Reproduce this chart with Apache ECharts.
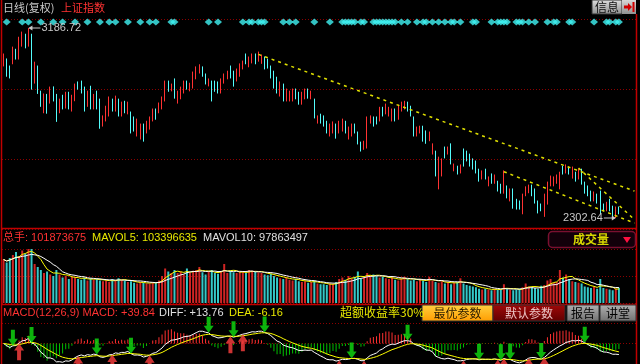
<!DOCTYPE html>
<html><head><meta charset="utf-8">
<script src="https://cdn.jsdelivr.net/npm/echarts@6/dist/echarts.min.js"></script>
<style>html,body{margin:0;padding:0;background:#000;}#c{width:640px;height:364px;}</style>
</head><body><div id="c"></div><script>
// [open, close, low, high]
const candles = [
[3015,3061,3008,3068],[3038,2968,2960,3045],[3005,2959,2952,3012],[3024,3094,3018,3100],[3084,3047,3040,3090],
[3047,3140,3040,3146],[3108,3163,3100,3170],[3154,3098,3092,3160],[3108,3177,3100,3186.72],[3154,2908,2900,3160],
[2935,3024,2928,3030],[3005,2889,2880,3012],[2889,2828,2820,2895],[2796,2875,2790,2882],[2875,2796,2788,2880],
[2842,2908,2835,2914],[2908,2852,2845,2915],[2875,2759,2750,2880],[2796,2852,2790,2858],[2870,2814,2808,2876],
[2819,2884,2812,2890],[2884,2814,2808,2890],[2805,2870,2798,2876],[2852,2921,2846,2928],[2931,2908,2900,2938],
[2935,2889,2882,2942],[2908,2805,2798,2914],[2828,2889,2820,2895],[2912,2814,2808,2918],[2814,2875,2808,2880],
[2889,2814,2808,2895],[2852,2726,2718,2858],[2735,2773,2728,2780],[2759,2819,2752,2825],[2782,2861,2775,2868],
[2852,2805,2798,2858],[2805,2866,2798,2872],[2852,2782,2775,2858],[2782,2838,2775,2844],[2842,2796,2790,2848],
[2791,2838,2785,2844],[2791,2703,2696,2798],[2768,2712,2705,2775],[2689,2759,2682,2765],[2675,2735,2668,2742],
[2735,2666,2658,2742],[2703,2749,2696,2755],[2721,2768,2714,2775],[2759,2805,2752,2812],[2805,2768,2760,2812],
[2796,2833,2790,2840],[2814,2861,2808,2868],[2852,2935,2845,2942],[2935,2898,2890,2942],[2898,2921,2892,2928],
[2945,2866,2858,2952],[2842,2889,2835,2895],[2861,2908,2855,2914],[2889,2935,2882,2942],[2935,2908,2900,2942],
[2898,2926,2892,2932],[2912,2977,2905,2984],[2954,3001,2948,3008],[2982,3010,2975,3018],[3001,2968,2960,3008],
[2968,2931,2924,2975],[2921,2945,2915,2952],[2935,2852,2845,2942],[2935,2898,2890,2942],[2931,2889,2882,2938],
[2889,2945,2882,2952],[2935,2968,2928,2975],[2954,2982,2948,2988],[3005,2959,2952,3012],[2982,2921,2914,2988],
[2945,2991,2938,2998],[2968,3015,2960,3022],[3001,3028,2994,3035],[3061,3024,3018,3068],[3010,3047,3004,3054],
[3028,3061,3022,3068],[3061,3024,3018,3068],[3038,3070,3030,3077],[3028,3056,3020,3063],[3047,3001,2994,3054],
[3038,3005,2998,3044],[3005,2959,2952,3012],[2982,2912,2905,2988],[2954,2889,2882,2960],[2875,2931,2868,2938],
[2921,2852,2845,2928],[2852,2898,2845,2905],[2852,2889,2845,2895],[2852,2898,2845,2905],[2898,2861,2855,2905],
[2884,2838,2830,2890],[2838,2884,2830,2890],[2861,2898,2855,2905],[2898,2866,2858,2905],[2861,2889,2855,2895],
[2852,2773,2766,2858],[2749,2773,2742,2780],[2782,2749,2742,2788],[2773,2735,2728,2780],[2749,2703,2696,2755],
[2689,2735,2682,2742],[2703,2745,2696,2752],[2735,2680,2672,2742],[2703,2749,2696,2755],[2712,2759,2705,2765],
[2749,2703,2696,2755],[2675,2721,2668,2728],[2689,2735,2682,2742],[2735,2703,2696,2742],[2698,2652,2645,2705],
[2652,2619,2612,2658],[2628,2656,2620,2662],[2633,2768,2626,2775],[2749,2773,2742,2780],[2768,2735,2728,2775],
[2768,2745,2738,2775],[2759,2814,2752,2820],[2814,2782,2775,2820],[2791,2828,2785,2835],[2782,2814,2775,2820],
[2759,2805,2752,2812],[2805,2759,2752,2812],[2768,2824,2760,2830],[2805,2838,2798,2844],[2814,2842,2808,2848],
[2838,2805,2798,2844],[2819,2782,2775,2825],[2768,2689,2682,2775],[2689,2721,2682,2728],[2703,2726,2696,2732],
[2726,2666,2658,2732],[2703,2656,2648,2710],[2666,2698,2660,2705],[2605,2642,2598,2650],[2610,2503,2496,2616],
[2442,2582,2436,2588],[2503,2573,2496,2580],[2628,2586,2580,2635],[2605,2628,2598,2635],[2642,2559,2552,2650],
[2526,2549,2520,2556],[2540,2512,2505,2546],[2517,2545,2510,2552],[2619,2549,2542,2626],[2610,2573,2566,2616],
[2596,2549,2542,2602],[2573,2535,2528,2580],[2563,2517,2510,2570],[2526,2480,2472,2532],[2489,2517,2482,2524],
[2526,2489,2482,2532],[2456,2489,2450,2496],[2503,2470,2462,2510],[2470,2498,2462,2505],[2470,2433,2426,2476],
[2456,2424,2416,2462],[2424,2517,2416,2524],[2447,2400,2394,2454],[2386,2433,2380,2440],[2433,2354,2346,2440],
[2386,2349,2342,2392],[2377,2349,2342,2384],[2326,2410,2320,2416],[2410,2442,2404,2450],[2424,2452,2418,2458],
[2452,2410,2404,2458],[2433,2377,2370,2440],[2377,2331,2324,2384],[2363,2340,2334,2370],[2317,2410,2308,2416],
[2372,2466,2365,2472],[2456,2493,2450,2500],[2456,2489,2450,2496],[2470,2498,2462,2505],[2442,2512,2436,2518],
[2540,2512,2505,2546],[2517,2545,2510,2552],[2535,2512,2505,2542],[2493,2535,2486,2542],[2512,2480,2472,2518],
[2489,2526,2482,2532],[2526,2466,2458,2532],[2466,2424,2416,2472],[2447,2410,2404,2454],[2424,2386,2380,2430],
[2386,2419,2380,2426],[2410,2377,2370,2416],[2424,2326,2320,2430],[2363,2340,2334,2370],[2340,2372,2334,2378],
[2386,2340,2334,2392],[2354,2307,2304,2360],[2317,2349,2302.64,2356],[2349,2326,2320,2356]
];
// volume, millions of shares
const volumes = [
290,270,300,320, 340,310,350,330,370,360, 260,240,220, 200,210,190, 180,220,190, 170,180,160,175,170,
160,155,170,150,165,155,160,150, 145,150,140, 160,150,165,155,150, 140,145,135,130,140,135,130,
130,140,135,150,180, 230,210,200, 220,200,210,190,230,200,215,220,240,205, 190,210,220,200,195,
210,260,200,215,205,200, 205,210,200,220,215,210,205,200, 190,185,195,180,170, 165,160,170,155,150,160,145,
140,145,135,140,150,130,125, 125,120,130,125,140,160, 170,155,180,165,175,210,160, 170,200,185,190,180,170,175,
165,160,170,155,150,165,175,160, 150,155,145,160,150,140,175, 150,140,135,145,130,140,125,135,140,
165,130,120,115,110,105, 95,90,95,90,85,95,90,88,125, 92,88,85,90,95,105,130, 110,105,100,95,115,120,
150,160,135,140,220,170, 190,160,145,140,135,130, 110,105,100,110,95,160, 100,95,90,85,95,101.873675
];
// days marked with a cyan diamond in the signal strip
const signalDays = [1,6,8,12,16,19,23,27,31,34,36,40,44,47,49,54,55,66,69,77,79,80,82,83,84,90,92,94,100,
105,109,110,111,112,113,115,116,119,120,121,122,123,124,125,126,128,130,133,135,136,138,140,142,144,145,147,
151,152,157,159,160,161,162,165,166,167,169,171,175,177,178,182,183,190,194,195,197,198];
const sellArrows = [3,9,30,41,66,74,84,112,130,153,160,163,173,187];
const buyArrows = [5,24,35,47,73,77,108,116,148,159,161,169,174];
// dashed trend lines: [[day, price], [day, price]]
const trendLines = [
  [[82,3064],[203,2428]],
  [[161,2518],[203,2279]],
  [[185,2535],[203,2295]]
];
const volHeader = ['总手: 101873675', 'MAVOL5: 103396635', 'MAVOL10: 97863497'];
const macdHeader = ['MACD(12,26,9) MACD: +39.84', 'DIFF: +13.76', 'DEA: -6.16'];

const categories = [];
for (let i = 0; i < candles.length + 5; i++) categories.push(String(i));

function ema(arr, n) { const k = 2 / (n + 1); const out = []; let e = arr[0];
  for (let i = 0; i < arr.length; i++) { e = i === 0 ? arr[0] : arr[i] * k + e * (1 - k); out.push(e); } return out; }
function ma(arr, n) { return arr.map((v, i) => { let s = 0, c = 0; for (let j = Math.max(0, i - n + 1); j <= i; j++) { s += arr[j]; c++; } return s / c; }); }
const closes = candles.map(c => c[1]);
const e12 = ema(closes, 12), e26 = ema(closes, 26);
const diff = e12.map((v, i) => v - e26[i]);
const dea = ema(diff, 9);
const macd = diff.map((v, i) => 2 * (v - dea[i]));
const mavol5 = ma(volumes, 5), mavol10 = ma(volumes, 10);
const A = Math.ceil(Math.max(...diff.map(Math.abs), ...dea.map(Math.abs)) * 1.05);

const RED = '#ff3232', CYAN = '#54fcfc';
const dotted = { show: true, lineStyle: { color: '#8c0000', type: [1, 2], width: 1 } };
const hid = { axisLine: { show: false }, axisTick: { show: false }, axisLabel: { show: false } };
const FONT = '"Liberation Sans","Noto Sans CJK SC",sans-serif';

const chart = echarts.init(document.getElementById('c'), null, { renderer: 'canvas' });
const option = {
  backgroundColor: '#000', animation: false,
  grid: [
    { left: 2, right: 4, top: 17, height: 10 },
    { left: 2, right: 4, top: 19, height: 210 },
    { left: 2, right: 4, top: 249, height: 54 },
    { left: 2, right: 4, top: 323, height: 44 }
  ],
  xAxis: [0, 1, 2, 3].map(g => Object.assign({ type: 'category', gridIndex: g, data: categories, boundaryGap: true, splitLine: { show: false } }, hid)),
  yAxis: [
    Object.assign({ gridIndex: 0, min: 0, max: 1, splitLine: { show: false } }, hid),
    Object.assign({ gridIndex: 1, min: 2251.5, max: 3228.6, interval: 325.7, splitLine: dotted, scale: true }, hid),
    Object.assign({ gridIndex: 2, min: 0, max: 360, interval: 180, splitLine: dotted }, hid),
    Object.assign({ gridIndex: 3, min: -A, max: A, interval: A, splitLine: dotted }, hid)
  ],
  series: [
    { type: 'scatter', xAxisIndex: 0, yAxisIndex: 0, symbol: 'diamond', symbolSize: [8, 7],
      itemStyle: { color: '#40f4f4' }, data: signalDays.map(d => [String(d), 0.5]) },
    { type: 'candlestick', xAxisIndex: 1, yAxisIndex: 1, barWidth: 1, data: candles,
      itemStyle: { color: RED, color0: CYAN, borderColor: RED, borderColor0: CYAN, borderWidth: 1 },
      markLine: { silent: true, symbol: ['none', 'none'], label: { show: false },
        lineStyle: { color: '#e0e000', type: [3, 4], width: 1.5 },
        data: trendLines.map(l => [{ coord: [String(l[0][0]), l[0][1]] }, { coord: [String(l[1][0]), l[1][1]] }]) } },
    { type: 'bar', xAxisIndex: 2, yAxisIndex: 2, barWidth: 2, data: volumes,
      itemStyle: { color: p => candles[p.dataIndex][1] >= candles[p.dataIndex][0] ? '#d02424' : '#34c8c8' } },
    { type: 'line', xAxisIndex: 2, yAxisIndex: 2, data: mavol5, showSymbol: false, lineStyle: { color: '#ffff00', width: 1 } },
    { type: 'line', xAxisIndex: 2, yAxisIndex: 2, data: mavol10, showSymbol: false, lineStyle: { color: '#ffffff', width: 1 } },
    { type: 'bar', xAxisIndex: 3, yAxisIndex: 3, barWidth: 1, data: macd,
      itemStyle: { color: p => p.value >= 0 ? '#ff3030' : '#00c000' } },
    { type: 'line', xAxisIndex: 3, yAxisIndex: 3, data: diff, showSymbol: false, lineStyle: { color: '#ffffff', width: 1 } },
    { type: 'line', xAxisIndex: 3, yAxisIndex: 3, data: dea, showSymbol: false, lineStyle: { color: '#ffff00', width: 1 } },
    { type: 'scatter', xAxisIndex: 3, yAxisIndex: 3, z: 5, symbol: 'path://M3,0L7,0L7,9L10,9L5,16L0,9L3,9Z',
      symbolSize: [10, 16], symbolOffset: [0, -8], itemStyle: { color: '#10e010' },
      data: sellArrows.map(i => [String(i), diff[i]]) },
    { type: 'scatter', xAxisIndex: 3, yAxisIndex: 3, z: 5, symbol: 'path://M5,0L10,7L7,7L7,16L3,16L3,7L0,7Z',
      symbolSize: [10, 17], symbolOffset: [0, 8.5], itemStyle: { color: '#ff4040' },
      data: buyArrows.map(i => [String(i), diff[i]]) }
  ]
};
chart.setOption(option);

function grad(a, b) { return new echarts.graphic.LinearGradient(0, 0, 0, 1, [{ offset: 0, color: a }, { offset: 1, color: b }]); }
function txt(x, y, t, fill, font, align) { return { type: 'text', x: x, y: y, z: 100, style: { text: t, fill: fill, font: font, verticalAlign: 'middle', align: align || 'left' } }; }
function ln(x1, y1, x2, y2, c, w) { return { type: 'line', z: 90, shape: { x1, y1, x2, y2 }, style: { stroke: c, lineWidth: w || 1 } }; }
function button(x, y, w, h, f1, f2, t, tc) {
  return [{ type: 'rect', z: 95, shape: { x, y, width: w, height: h }, style: { fill: grad(f1, f2), stroke: '#303030', lineWidth: 1 } },
          txt(x + w / 2, y + h / 2, t, tc, '12px "Noto Sans CJK SC"', 'center')];
}
const F11 = '11px ' + FONT;
let g = [
  ln(1.5, 0, 1.5, 364, '#c00000', 1.5),
  ln(636.5, 14, 636.5, 364, '#c00000', 1.5),
  ln(2, 228.5, 636, 228.5, '#c00000', 1.5),
  ln(2, 304.5, 636, 304.5, '#c00000', 1.5),
  txt(3, 8, '日线(复权)', '#c8c8c8', '11px "Noto Sans CJK SC"'),
  txt(61, 8, '上证指数', '#ff3232', '11px "Noto Sans CJK SC"'),
  ...button(592, 0, 30, 14, '#e0e0e0', '#8c8c8c', '信息', '#101010'),
  { type: 'rect', z: 95, shape: { x: 622, y: 0, width: 14, height: 14 }, style: { fill: grad('#d8d8d8', '#909090') } },
  { type: 'polygon', z: 96, shape: { points: [[624, 5.5], [628, 5.5], [628, 3], [632, 7], [628, 11], [628, 8.5], [624, 8.5]] }, style: { fill: '#d00000' } },
  { type: 'rect', z: 96, shape: { x: 632.5, y: 2, width: 2, height: 10 }, style: { fill: '#d00000' } },
  txt(3, 238, volHeader[0], '#ff3232', F11),
  txt(92, 238, volHeader[1], '#e8e800', F11),
  txt(203, 238, volHeader[2], '#e0e0e0', F11),
  { type: 'rect', z: 95, shape: { x: 548.5, y: 231.5, width: 87, height: 16, r: 4 }, style: { fill: '#12000a', stroke: '#7a1030', lineWidth: 1.5 } },
  txt(591, 239.5, '成交量', '#d8d800', 'bold 12px "Noto Sans CJK SC"', 'center'),
  { type: 'polygon', z: 96, shape: { points: [[623, 237], [631, 237], [627, 243]] }, style: { fill: '#ff1040' } },
  txt(3, 312.5, macdHeader[0], '#ff3232', F11),
  txt(159, 312.5, macdHeader[1], '#e0e0e0', F11),
  txt(229, 312.5, macdHeader[2], '#e8e800', F11),
  txt(340, 312.5, '超额收益率30%', '#e8e800', '12px "Noto Sans CJK SC"'),
  ...button(422, 305, 71, 16, '#ffd040', '#ff9c00', '最优参数', '#302000'),
  ...button(493, 305, 72, 16, '#a00808', '#600000', '默认参数', '#ecc4c4'),
  ...button(567, 305, 32, 16, '#b0b0b0', '#707070', '报告', '#000000'),
  ...button(600, 305, 36, 16, '#b0b0b0', '#707070', '讲堂', '#000000')
];
// max / min labels located through the price axes
let hi = 0, lo = 0;
candles.forEach((c, i) => { if (c[3] > candles[hi][3]) hi = i; if (c[2] < candles[lo][2]) lo = i; });
const hp = chart.convertToPixel({ xAxisIndex: 1, yAxisIndex: 1 }, [String(hi), candles[hi][3]]);
const lp = chart.convertToPixel({ xAxisIndex: 1, yAxisIndex: 1 }, [String(lo), candles[lo][2]]);
const LC = '#c8c8c8';
g.push(ln(hp[0] + 1, hp[1], hp[0] + 12, hp[1], LC, 1));
g.push({ type: 'polygon', z: 91, shape: { points: [[hp[0], hp[1]], [hp[0] + 4, hp[1] - 2.5], [hp[0] + 4, hp[1] + 2.5]] }, style: { fill: LC } });
g.push(txt(hp[0] + 13, hp[1], candles[hi][3].toFixed(2), LC, F11));
g.push(ln(lp[0] - 12, lp[1], lp[0] - 1, lp[1], LC, 1));
g.push({ type: 'polygon', z: 91, shape: { points: [[lp[0], lp[1]], [lp[0] - 4, lp[1] - 2.5], [lp[0] - 4, lp[1] + 2.5]] }, style: { fill: LC } });
g.push(txt(lp[0] - 13, lp[1] - 0.5, candles[lo][2].toFixed(2), LC, F11, 'right'));
chart.setOption({ graphic: g });
</script></body></html>
